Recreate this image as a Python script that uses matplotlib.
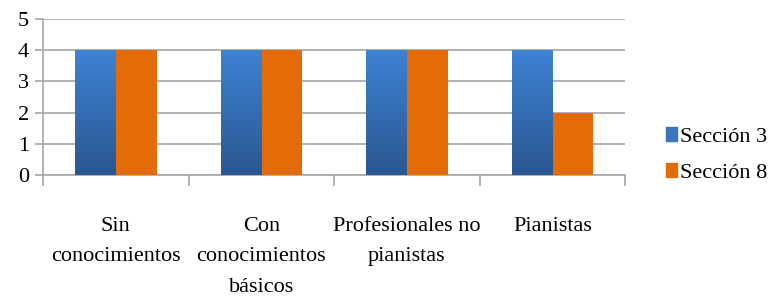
import numpy as np
import matplotlib.pyplot as plt
from matplotlib.patches import Patch

categorias = ['Sin\nconocimientos', 'Con\nconocimientos\nbásicos',
              'Profesionales no\npianistas', 'Pianistas']
seccion_3 = [4, 4, 4, 4]
seccion_8 = [4, 4, 4, 2]
series = ['Sección 3', 'Sección 8']

plt.rcParams['font.family'] = ['Liberation Serif', 'DejaVu Serif']

fig = plt.figure(figsize=(7.69, 2.98), dpi=100)
ax = fig.add_axes([0.056, 0.413, 0.757, 0.523])

x = np.arange(len(categorias))
w = 0.28
blue_top, blue_bot = np.array([0x3e, 0x82, 0xd4]) / 255, np.array([0x2a, 0x57, 0x91]) / 255
orange = '#e36c09'

bars3 = ax.bar(x - w / 2, seccion_3, w, color='#3a75c0', zorder=3)
bars8 = ax.bar(x + w / 2, seccion_8, w, color=orange, zorder=3)

# gradient on blue bars, like the office chart
grad = np.linspace(0, 1, 100)[:, None]
cols = blue_bot[None, :] * (1 - grad) + blue_top[None, :] * grad
img = cols[:, None, :]
for b in bars3:
    x0, y0 = b.get_x(), b.get_y()
    im = ax.imshow(img, extent=[x0, x0 + b.get_width(), y0, y0 + b.get_height()],
                   origin='lower', aspect='auto', zorder=3.5)
    im.set_clip_path(b)

ax.set_xlim(-0.5, len(categorias) - 0.5)
ax.set_ylim(0, 5)
ax.set_yticks(range(6))
ax.yaxis.grid(True, color='#a6a6a6', linewidth=1.2, zorder=0)
ax.set_axisbelow(True)

ax.set_xticks(x)
ax.set_xticklabels(categorias, fontsize=16, linespacing=1.85)
ax.set_xticks(np.arange(-0.5, len(categorias)), minor=True)
ax.tick_params(axis='x', which='major', length=0, pad=30)
ax.tick_params(axis='x', which='minor', length=8, color='#a6a6a6', width=1.2)
ax.tick_params(axis='y', length=6, color='#a6a6a6', width=1.2, labelsize=16, pad=4)

for s in ['top', 'right']:
    ax.spines[s].set_visible(False)
for s in ['left', 'bottom']:
    ax.spines[s].set_color('#a6a6a6')
    ax.spines[s].set_linewidth(1.2)

handles = [Patch(color='#3a75c0'), Patch(color=orange)]
fig.legend(handles, series, loc='center left', bbox_to_anchor=(0.866, 0.48),
           frameon=False, fontsize=16, handlelength=0.5, handleheight=0.6,
           handletextpad=0.15, labelspacing=0.75, borderpad=0, borderaxespad=0)

fig.savefig('out.png', dpi=100)
